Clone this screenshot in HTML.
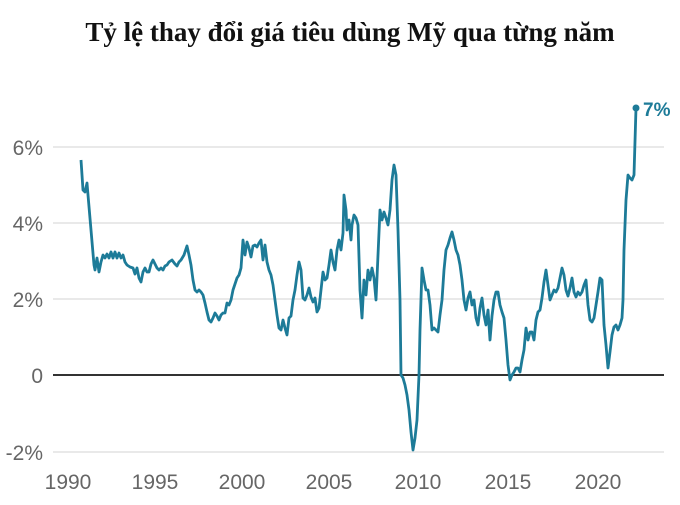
<!DOCTYPE html>
<html><head><meta charset="utf-8"><style>
body{margin:0;background:#fff;width:680px;height:500px;overflow:hidden}
</style></head><body>
<svg width="680" height="500" xmlns="http://www.w3.org/2000/svg">
<text x="350" y="41" text-anchor="middle" font-family="'Liberation Serif',serif" font-weight="bold" font-size="27" fill="#111">Tỷ lệ thay đổi giá tiêu dùng Mỹ qua từng năm</text>
<g stroke="#dcdcdc" stroke-width="1.3">
<line x1="53" y1="147" x2="664" y2="147"/>
<line x1="53" y1="223" x2="664" y2="223"/>
<line x1="53" y1="299" x2="664" y2="299"/>
<line x1="53" y1="452" x2="664" y2="452"/>
</g>
<line x1="53" y1="375" x2="664" y2="375" stroke="#333" stroke-width="2"/>
<g font-family="'Liberation Sans',sans-serif" font-size="21" fill="#666">
<text x="43" y="155" text-anchor="end">6%</text>
<text x="43" y="231" text-anchor="end">4%</text>
<text x="43" y="307" text-anchor="end">2%</text>
<text x="43" y="383" text-anchor="end">0</text>
<text x="43" y="460" text-anchor="end">-2%</text>
<text x="68" y="489" text-anchor="middle">1990</text>
<text x="155" y="489" text-anchor="middle">1995</text>
<text x="242" y="489" text-anchor="middle">2000</text>
<text x="329" y="489" text-anchor="middle">2005</text>
<text x="418" y="489" text-anchor="middle">2010</text>
<text x="508" y="489" text-anchor="middle">2015</text>
<text x="598" y="489" text-anchor="middle">2020</text>
</g>
<polyline fill="none" stroke="#1d7b98" stroke-width="2.8" stroke-linejoin="round" points="81,160 83,190 85,192 87,183 88,195 91,230 94,265 95,270 97,258 99,272 101,262 103,255 105,258 107,254 109,258 111,252 113,258 115,252 117,258 119,253 121,258 123,255 125,262 127,265 130,267 133,268 135,274 137,268 139,278 141,282 143,272 145,268 147,272 149,272 151,264 153,260 155,264 157,268 159,270 161,268 163,270 165,266 167,265 169,262 172,260 175,264 177,266 179,262 181,260 184,255 187,246 189,255 191,265 193,280 195,290 197,292 199,290 201,292 203,295 205,303 207,312 209,320 211,322 213,318 215,313 217,316 219,320 221,315 223,313 225,313 227,303 229,305 231,300 233,290 235,284 237,278 239,275 241,268 243,240 245,255 247,242 249,248 251,257 253,246 255,245 257,247 259,243 261,240 263,260 265,245 267,262 269,270 271,275 273,285 275,300 277,315 279,328 281,330 283,320 285,328 287,335 289,318 291,316 293,300 295,290 297,275 299,262 301,270 303,298 305,300 307,295 309,288 311,297 313,302 315,298 317,312 319,308 321,290 323,272 325,280 327,278 329,265 331,250 333,262 335,270 337,250 339,240 341,250 343,233 344,195 346,210 347,230 349,220 351,240 352,225 354,215 356,218 358,225 360,290 362,318 364,280 366,295 368,270 370,280 372,268 374,278 376,300 378,255 380,210 382,220 384,212 386,218 388,225 390,210 392,180 394,165 396,175 398,230 400,300 401,375 403,378 405,385 407,395 409,410 411,432 413,450 415,438 417,420 419,375 420,330 422,268 424,280 426,290 428,290 430,305 432,330 434,328 436,330 438,332 440,315 442,300 444,270 446,250 448,245 450,238 452,232 454,240 456,250 458,255 460,265 462,280 464,300 466,310 468,298 470,292 472,305 474,300 476,318 478,325 480,308 482,298 484,315 486,325 488,310 490,340 492,316 494,300 496,292 498,292 500,305 502,312 504,318 506,340 508,365 510,380 512,375 514,372 516,368 518,368 520,372 522,360 524,350 526,328 528,340 530,332 532,332 534,340 536,320 538,312 540,310 542,298 544,282 546,270 548,285 550,300 552,295 554,290 556,292 558,288 560,278 562,268 564,275 566,290 568,296 570,288 572,278 574,292 576,297 578,292 580,295 582,292 584,285 586,280 588,305 590,320 592,322 594,318 596,305 598,292 600,278 602,280 604,325 606,345 608,368 610,352 612,335 614,327 616,325 618,330 620,325 622,318 623,300 624,250 626,200 628,175 630,178 632,180 634,175 636,108"/>
<circle cx="636" cy="108" r="3.5" fill="#1d7b98"/>
<text x="643" y="116" font-family="'Liberation Sans',sans-serif" font-weight="bold" font-size="19" fill="#1d7b98">7%</text>
</svg>
</body></html>
